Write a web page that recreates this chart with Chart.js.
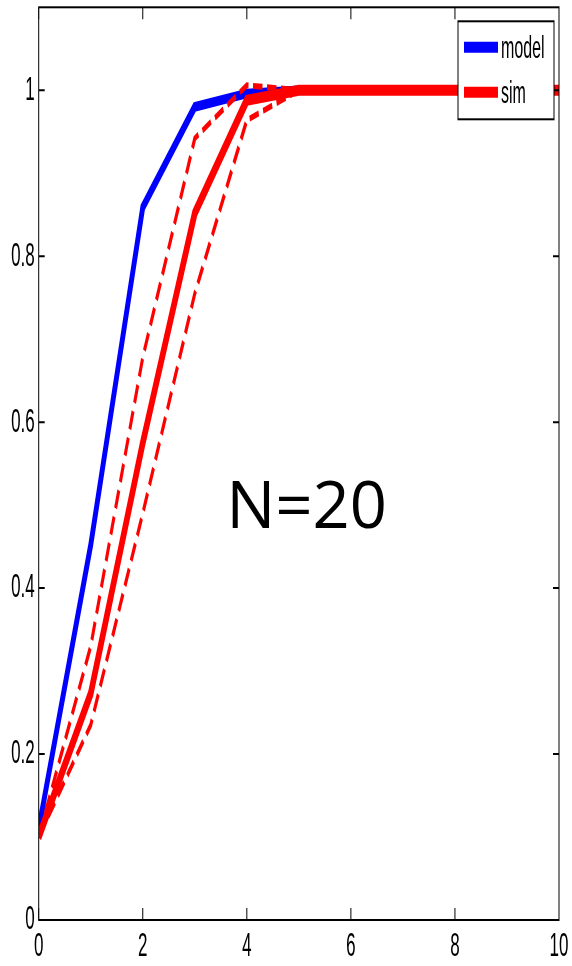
<!DOCTYPE html>
<html>
<head>
<meta charset="utf-8">
<script src="https://cdn.jsdelivr.net/npm/chart.js@4/dist/chart.umd.min.js"></script>
<style>
html, body { margin: 0; padding: 0; background: #fff; }
body { width: 572px; height: 966px; }
/* the original figure is stretched 2x vertically, so draw at half height and stretch */
#wrap { width: 572px; height: 483px; transform: scaleY(2); transform-origin: 0 0; }
</style>
</head>
<body>
<div id="wrap"><canvas id="chart" width="572" height="483"></canvas></div>
<script>
var xVals = [0, 1, 2, 3, 4, 5, 6, 7, 8, 9, 10];
var model = [0.11, 0.452, 0.859, 0.98, 0.996, 1, 1, 1, 1, 1, 1];
var sim = [0.1, 0.273, 0.575, 0.852, 0.988, 1, 1, 1, 1, 1, 1];
var simUpper = [0.1, 0.33, 0.678, 0.942, 1.006, 1, 1, 1, 1, 1, 1];
var simLower = [0.1, 0.235, 0.49, 0.755, 0.964, 1, 1, 1, 1, 1, 1];
var xTicks = [0, 2, 4, 6, 8, 10];
var yTicks = [0, 0.2, 0.4, 0.6, 0.8, 1];
var noteText = "N=20";
var noteX = 5.15;
var noteY = 0.472;

function pts(ys) {
  var out = [];
  for (var i = 0; i < xVals.length; i++) {
    out.push({x: xVals[i], y: ys[i]});
  }
  return out;
}

var tickLen = 6;

var matlabAxes = {
  id: 'matlabAxes',
  afterDatasetsDraw: function(chart) {
    var ctx = chart.ctx;
    var a = chart.chartArea;
    var sx = chart.scales.x;
    var sy = chart.scales.y;
    ctx.save();

    // text annotation (not stretched in the original)
    ctx.save();
    ctx.translate(sx.getPixelForValue(noteX), sy.getPixelForValue(noteY));
    ctx.scale(1, 0.5);
    ctx.fillStyle = '#000';
    ctx.font = '500 65px "Open Sans"';
    ctx.textAlign = 'center';
    ctx.textBaseline = 'alphabetic';
    ctx.fillText(noteText, 0, 0);
    ctx.restore();

    // box + inward ticks on all sides
    ctx.strokeStyle = '#000';
    ctx.lineWidth = 1;
    ctx.strokeRect(a.left, a.top, a.right - a.left, a.bottom - a.top);
    ctx.beginPath();
    xTicks.forEach(function(v) {
      var px = sx.getPixelForValue(v);
      ctx.moveTo(px, a.bottom); ctx.lineTo(px, a.bottom - tickLen);
      ctx.moveTo(px, a.top); ctx.lineTo(px, a.top + tickLen);
    });
    yTicks.forEach(function(v) {
      var py = sy.getPixelForValue(v);
      ctx.moveTo(a.left, py); ctx.lineTo(a.left + tickLen, py);
      ctx.moveTo(a.right, py); ctx.lineTo(a.right - tickLen, py);
    });
    ctx.stroke();

    // legend box in the top right corner
    var items = chart.data.datasets.filter(function(d) { return d.label; });
    var bx = a.right - 101, by = a.top + 7, bw = 96, bh = 49;
    ctx.fillStyle = '#fff';
    ctx.fillRect(bx, by, bw, bh);
    ctx.strokeRect(bx, by, bw, bh);
    ctx.font = '16px "Liberation Sans"';
    ctx.textAlign = 'left';
    ctx.textBaseline = 'middle';
    items.forEach(function(d, i) {
      var ry = by + 13 + i * 22.5;
      ctx.beginPath();
      ctx.strokeStyle = d.borderColor;
      ctx.lineWidth = 5.5;
      ctx.moveTo(bx + 6, ry);
      ctx.lineTo(bx + 40, ry);
      ctx.stroke();
      ctx.fillStyle = '#000';
      ctx.fillText(d.label, bx + 43, ry + 1);
    });
    ctx.restore();
  }
};

Chart.defaults.color = '#000';
Chart.defaults.font.family = '"Liberation Sans", Arial, sans-serif';

var ctx = document.getElementById("chart");
var myChart = new Chart(ctx, {
  type: 'line',
  data: {
    datasets: [
      {
        label: "model",
        data: pts(model),
        borderColor: "#0000ff",
        borderWidth: 4.8,
        order: 3
      },
      {
        label: "sim",
        data: pts(sim),
        borderColor: "#ff0000",
        borderWidth: 5.5,
        order: 1
      },
      {
        label: "",
        data: pts(simUpper),
        borderColor: "#ff0000",
        borderWidth: 3,
        borderDash: [9.5, 4.5],
        order: 2
      },
      {
        label: "",
        data: pts(simLower),
        borderColor: "#ff0000",
        borderWidth: 3,
        borderDash: [9.5, 4.5],
        order: 2
      }
    ]
  },
  options: {
    responsive: false,
    devicePixelRatio: 2,
    animation: false,
    layout: { padding: { left: 0, right: 13, top: 3.65, bottom: 0 } },
    elements: {
      point: { radius: 0 },
      line: { tension: 0, fill: false }
    },
    plugins: {
      legend: { display: false },
      tooltip: { enabled: false }
    },
    scales: {
      x: {
        type: 'linear',
        min: 0,
        max: 10,
        grid: { display: false, drawTicks: false, tickLength: 0 },
        border: { display: false },
        afterBuildTicks: function(s) { s.ticks = xTicks.map(function(v) { return {value: v}; }); },
        afterFit: function(s) { s.height = 23; s.paddingLeft = 0; s.paddingRight = 0; },
        ticks: {
          padding: 3,
          font: { size: 17 },
          maxRotation: 0,
          callback: function(v) { return String(v); }
        }
      },
      y: {
        type: 'linear',
        min: 0,
        max: 1.1,
        grid: { display: false, drawTicks: false, tickLength: 0 },
        border: { display: false },
        afterBuildTicks: function(s) { s.ticks = yTicks.map(function(v) { return {value: v}; }); },
        afterFit: function(s) { s.width = 38.7; s.paddingTop = 0; s.paddingBottom = 0; },
        ticks: {
          padding: 4,
          font: { size: 17 },
          callback: function(v) { return String(Math.round(v * 10) / 10); }
        }
      }
    }
  },
  plugins: [matlabAxes]
});
</script>
</body>
</html>
